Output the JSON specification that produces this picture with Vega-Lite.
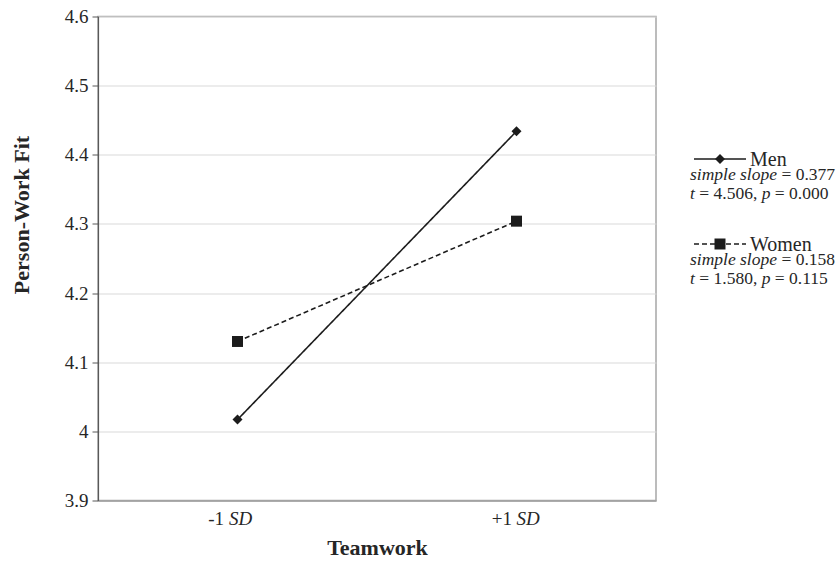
{
  "$schema": "https://vega.github.io/schema/vega-lite/v6.json",
  "background": "white",
  "padding": {"left": 9, "top": 6.5, "right": 0, "bottom": 2},
  "config": {
    "font": "Liberation Serif",
    "view": {"stroke": null},
    "axis": {"labelFont": "Liberation Serif", "titleFont": "Liberation Serif"},
    "text": {"font": "Liberation Serif"}
  },
  "datasets": {
    "pts": [
      {"group": "Men", "level": "-1", "fit": 4.017},
      {"group": "Men", "level": "+1", "fit": 4.434},
      {"group": "Women", "level": "-1", "fit": 4.13},
      {"group": "Women", "level": "+1", "fit": 4.304}
    ],
    "leg": [
      {"group": "Men", "slope": "= 0.377", "t": "= 4.506,", "p": "= 0.000"},
      {"group": "Women", "slope": "= 0.158", "t": "= 1.580,", "p": "= 0.115"}
    ]
  },
  "spacing": 32,
  "hconcat": [
    {
      "width": 558,
      "height": 484,
      "view": {"stroke": "#a6a6a6", "strokeWidth": 1.5},
      "data": {"name": "pts"},
      "resolve": {"axis": {"x": "independent"}},
      "layer": [
        {
          "mark": {"type": "line", "color": "#1c1c1c", "strokeWidth": 1.6},
          "encoding": {
            "x": {
              "field": "level", "type": "nominal",
              "scale": {"type": "point", "padding": 0.5, "domain": ["-1", "+1"]},
              "axis": {
                "orient": "bottom", "title": "Teamwork", "titleFontSize": 22, "titleFontWeight": "bold",
                "titleColor": "#262626", "titlePadding": 9, "labelAngle": 0, "labelFontSize": 19,
                "labelColor": "#262626", "labelAlign": "right",
                "labelOffset": {"condition": {"test": "datum.value === '-1'", "value": -14}, "value": -5},
                "labelPadding": 9, "ticks": false, "domainColor": "#9a9a9a", "domainWidth": 1.5, "grid": false
              }
            },
            "y": {
              "field": "fit", "type": "quantitative",
              "scale": {"domain": [3.9, 4.6], "nice": false, "zero": false},
              "axis": {
                "title": "Person-Work Fit", "values": [3.9, 4, 4.1, 4.2, 4.3, 4.4, 4.5, 4.6], "format": ".1~f",
                "labelFontSize": 19, "labelColor": "#262626", "labelPadding": 4, "tickSize": 6,
                "tickColor": "#595959", "domainColor": "#595959", "domainWidth": 1.2,
                "gridColor": "#d9d9d9", "gridWidth": 1,
                "titleFontSize": 22, "titleFontWeight": "bold", "titleColor": "#262626",
                "titlePadding": 31, "titleY": 198
              }
            },
            "strokeDash": {
              "field": "group", "type": "nominal",
              "scale": {"domain": ["Men", "Women"], "range": [[1, 0], [5, 3]]}, "legend": null
            }
          }
        },
        {
          "mark": {"type": "point", "filled": true, "opacity": 1, "color": "#1c1c1c"},
          "encoding": {
            "x": {
              "field": "level", "type": "nominal",
              "axis": {
                "orient": "bottom", "title": null, "labelExpr": "'SD'", "labelFontStyle": "italic",
                "labelAngle": 0, "labelFontSize": 19, "labelColor": "#262626", "labelAlign": "left",
                "labelOffset": {"condition": {"test": "datum.value === '-1'", "value": -9}, "value": -0.5},
                "labelPadding": 9, "ticks": false, "domain": false, "grid": false
              }
            },
            "y": {"field": "fit", "type": "quantitative"},
            "shape": {
              "field": "group", "type": "nominal",
              "scale": {"domain": ["Men", "Women"], "range": ["diamond", "square"]}, "legend": null
            },
            "size": {
              "field": "group", "type": "ordinal",
              "scale": {"domain": ["Men", "Women"], "range": [100, 121]}, "legend": null
            }
          }
        }
      ]
    },
    {
      "width": 146,
      "height": 484,
      "data": {"name": "leg"},
      "view": {"stroke": null},
      "encoding": {
        "y": {
          "field": "group", "type": "nominal",
          "scale": {"type": "point", "padding": 0, "domain": ["Men", "Women"], "range": [142.5, 227.5]},
          "axis": null
        }
      },
      "layer": [
        {
          "mark": {"type": "point", "shape": "M-1,0L1,0", "size": 2704, "color": "#1c1c1c", "strokeWidth": 1.6, "filled": false, "opacity": 1, "xOffset": -42},
          "encoding": {
            "strokeDash": {
              "field": "group", "type": "nominal",
              "scale": {"domain": ["Men", "Women"], "range": [[1, 0], [5, 3]]}, "legend": null
            }
          }
        },
        {
          "mark": {"type": "point", "filled": true, "opacity": 1, "color": "#1c1c1c", "xOffset": -42},
          "encoding": {
            "shape": {
              "field": "group", "type": "nominal",
              "scale": {"domain": ["Men", "Women"], "range": ["diamond", "square"]}, "legend": null
            },
            "size": {
              "field": "group", "type": "ordinal",
              "scale": {"domain": ["Men", "Women"], "range": [100, 144]}, "legend": null
            }
          }
        },
        {
          "mark": {"type": "text", "align": "left", "baseline": "alphabetic", "dx": -12, "dy": 6.5, "fontSize": 20, "color": "#262626"},
          "encoding": {"text": {"field": "group"}}
        },
        {
          "mark": {"type": "text", "text": "simple slope", "fontStyle": "italic", "align": "right", "baseline": "alphabetic", "dx": 15, "dy": 20.5, "fontSize": 17.5, "color": "#262626"},
          "encoding": {}
        },
        {
          "mark": {"type": "text", "align": "left", "baseline": "alphabetic", "dx": 19.4, "dy": 20.5, "fontSize": 17.5, "color": "#262626"},
          "encoding": {"text": {"field": "slope"}}
        },
        {
          "mark": {"type": "text", "text": "t", "fontStyle": "italic", "align": "right", "baseline": "alphabetic", "dx": -67.1, "dy": 39.5, "fontSize": 17.5, "color": "#262626"},
          "encoding": {}
        },
        {
          "mark": {"type": "text", "align": "left", "baseline": "alphabetic", "dx": -62.7, "dy": 39.5, "fontSize": 17.5, "color": "#262626"},
          "encoding": {"text": {"field": "t"}}
        },
        {
          "mark": {"type": "text", "text": "p", "fontStyle": "italic", "align": "right", "baseline": "alphabetic", "dx": 8.4, "dy": 39.5, "fontSize": 17.5, "color": "#262626"},
          "encoding": {}
        },
        {
          "mark": {"type": "text", "align": "left", "baseline": "alphabetic", "dx": 12.8, "dy": 39.5, "fontSize": 17.5, "color": "#262626"},
          "encoding": {"text": {"field": "p"}}
        }
      ]
    }
  ]
}
